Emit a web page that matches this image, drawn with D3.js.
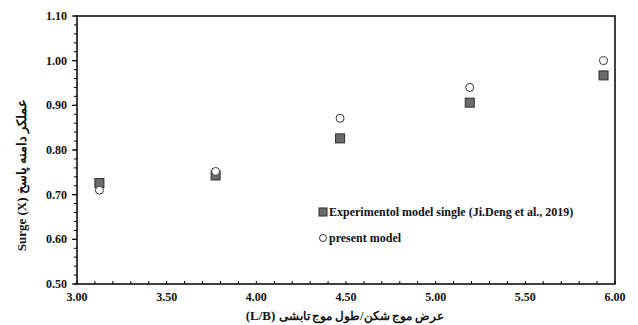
<!DOCTYPE html>
<html>
<head>
<meta charset="utf-8">
<script src="https://cdn.jsdelivr.net/npm/d3@7"></script>
<style>
body { margin: 0; background: #fff; }
text { font-family: "Liberation Serif", "DejaVu Serif", serif; font-weight: bold; }
</style>
</head>
<body>
<svg id="chart" width="638" height="325"></svg>
<script>
var ratioLB = [3.125, 3.773, 4.467, 5.19, 5.936];
var experimental = [0.726, 0.743, 0.826, 0.906, 0.967];
var presentModel = [0.710, 0.752, 0.871, 0.940, 1.000];
var xTicks = [3.0, 3.5, 4.0, 4.5, 5.0, 5.5, 6.0];
var yTicks = [0.5, 0.6, 0.7, 0.8, 0.9, 1.0, 1.1];
var legendLabels = ["Experimentol model single (Ji.Deng et al., 2019)", "present model"];

var svg = d3.select("#chart");
var plotL = 77, plotR = 615, plotT = 16, plotB = 284;

var x = d3.scaleLinear().domain([3, 6]).range([plotL, plotR]);
var y = d3.scaleLinear().domain([0.5, 1.1]).range([plotB, plotT]);

// frame
svg.append("rect")
	.attr("x", plotL).attr("y", plotT)
	.attr("width", plotR - plotL).attr("height", plotB - plotT)
	.attr("fill", "none").attr("stroke", "#000").attr("stroke-width", 1.5);

// x axis: ticks pointing inward
var xMinor = d3.range(3.0, 6.001, 0.1);
svg.append("g").selectAll("line")
	.data(xMinor).enter().append("line")
	.attr("x1", function(d) { return x(d); }).attr("x2", function(d) { return x(d); })
	.attr("y1", plotB).attr("y2", plotB - 3)
	.attr("stroke", "#000").attr("stroke-width", 1);
svg.append("g").selectAll("text")
	.data(xTicks).enter().append("text")
	.attr("x", function(d) { return x(d); })
	.attr("y", plotB + 17)
	.attr("text-anchor", "middle")
	.attr("font-size", 12)
	.attr("fill", "#111")
	.text(function(d) { return d.toFixed(2); });

// y axis: ticks pointing outward
var yMinor = d3.range(0.5, 1.1001, 0.02);
svg.append("g").selectAll("line")
	.data(yMinor).enter().append("line")
	.attr("x1", plotL).attr("x2", plotL - 3)
	.attr("y1", function(d) { return y(d); }).attr("y2", function(d) { return y(d); })
	.attr("stroke", "#000").attr("stroke-width", 1);
svg.append("g").selectAll("line")
	.data(yTicks).enter().append("line")
	.attr("x1", plotL).attr("x2", plotL - 5)
	.attr("y1", function(d) { return y(d); }).attr("y2", function(d) { return y(d); })
	.attr("stroke", "#000").attr("stroke-width", 1.2);
svg.append("g").selectAll("text")
	.data(yTicks).enter().append("text")
	.attr("x", plotL - 10)
	.attr("y", function(d) { return y(d) + 4; })
	.attr("text-anchor", "end")
	.attr("font-size", 12)
	.attr("fill", "#111")
	.text(function(d) { return d.toFixed(2); });

// axis titles
svg.append("text")
	.attr("transform", "translate(26,175) rotate(-90)")
	.attr("text-anchor", "middle")
	.attr("font-size", 13)
	.attr("fill", "#111")
	.text("Surge (X) عملکر دامنه پاسخ");

var xt = svg.append("text")
	.attr("x", 345)
	.attr("y", 320)
	.attr("text-anchor", "middle")
	.attr("font-size", 13)
	.attr("fill", "#111");
xt.append("tspan").text("(L/B) ");
xt.append("tspan").attr("font-size", 11.5).text("عرض موج شکن/طول موج تابشی");

// experimental squares
var sq = 9;
svg.append("g").selectAll("rect")
	.data(ratioLB).enter().append("rect")
	.attr("x", function(d) { return x(d) - sq / 2; })
	.attr("y", function(d, i) { return y(experimental[i]) - sq / 2; })
	.attr("width", sq).attr("height", sq)
	.attr("fill", "#6b6b6b").attr("stroke", "#2a2a2a").attr("stroke-width", 1);

// present model circles
svg.append("g").selectAll("circle")
	.data(ratioLB).enter().append("circle")
	.attr("cx", function(d) { return x(d); })
	.attr("cy", function(d, i) { return y(presentModel[i]); })
	.attr("r", 4)
	.attr("fill", "#fff").attr("stroke", "#333").attr("stroke-width", 1);

// legend
var lg = svg.append("g");
lg.append("rect")
	.attr("x", 319).attr("y", 208)
	.attr("width", 8).attr("height", 8)
	.attr("fill", "#6b6b6b").attr("stroke", "#2a2a2a").attr("stroke-width", 1);
lg.append("text")
	.attr("x", 329).attr("y", 216)
	.attr("font-size", 12)
	.attr("fill", "#111")
	.text(legendLabels[0]);
lg.append("circle")
	.attr("cx", 323).attr("cy", 238)
	.attr("r", 3.5)
	.attr("fill", "#fff").attr("stroke", "#333").attr("stroke-width", 1);
lg.append("text")
	.attr("x", 329).attr("y", 242)
	.attr("font-size", 12)
	.attr("fill", "#111")
	.text(legendLabels[1]);
</script>
</body>
</html>
